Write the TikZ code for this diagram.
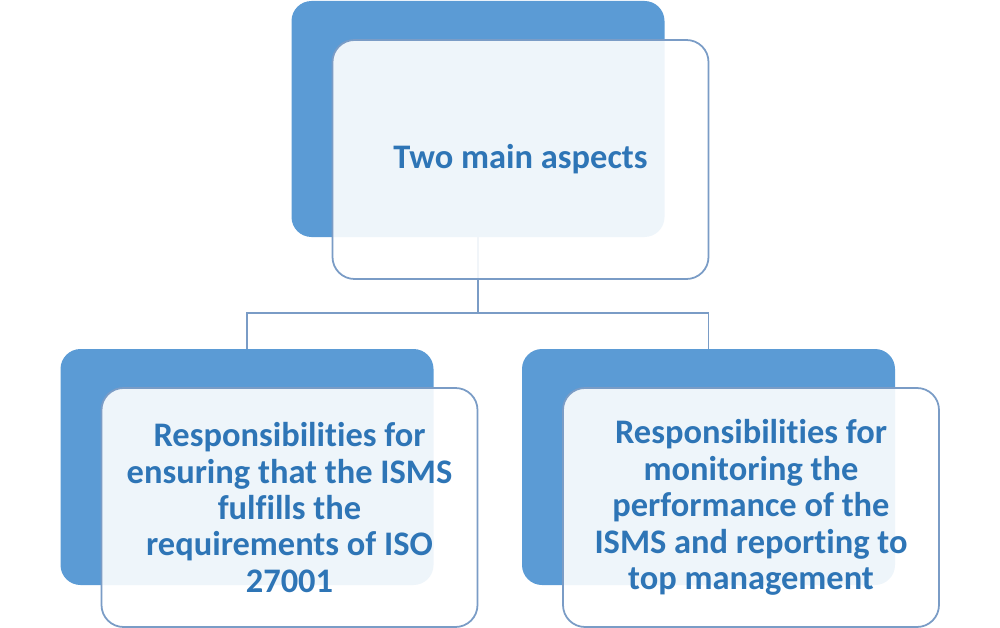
\documentclass[tikz,border=0pt]{standalone}
\usepackage{fontspec}
\setmainfont{Carlito}[Ligatures={NoCommon}]
\usepackage{tikz}
\usetikzlibrary{positioning,calc}
\definecolor{deepblue} {RGB}{ 91,155,213}
\definecolor{edgeblue} {RGB}{122,156,198}
\definecolor{inkblue}  {RGB}{ 46,117,182}

\begin{document}
\begin{tikzpicture}[
  back/.style={rectangle, rounded corners=0.4cm, fill=deepblue, draw=none,
               minimum width=7.46cm, minimum height=4.72cm, inner sep=0pt},
  front/.style={rectangle, rounded corners=0.44cm, draw=edgeblue, line width=1pt,
                fill=white, fill opacity=0.9, text opacity=1, draw opacity=1,
                minimum width=7.52cm, minimum height=4.78cm, inner sep=0pt,
                align=center, text=inkblue, font=\bfseries},
  link/.style={edgeblue, line width=1pt}
]
  \useasboundingbox (0,0) rectangle (20,-12.56);

  % shaded backs
  \node[back] (top_b)   at (9.56,-2.38)  {};
  \node[back] (left_b)  at (4.94,-9.34)  {};
  \node[back] (right_b) at (14.17,-9.34) {};

  % connectors
  \coordinate (fork) at ($(top_b.south)+(0,-1.52)$);
  \draw[link] (top_b.south) -- (fork);
  \draw[link] (fork) -| (left_b.north);
  \draw[link] (fork) -| (right_b.north);

  % front cards
  \node[front, font=\bfseries\fontsize{19.6}{23}\selectfont]
        (top_f) at ($(top_b.center)+(0.85,-0.81)$) {Two main aspects};
  \node[front, font=\bfseries\fontsize{19.6}{20.7}\selectfont]
        (left_f) at ($(left_b.center)+(0.85,-0.81)$)
        {Responsibilities for\\ensuring that the ISMS\\fulfills the\\requirements of ISO\\27001};
  \node[front, font=\bfseries\fontsize{19.6}{20.7}\selectfont]
        (right_f) at ($(right_b.center)+(0.85,-0.81)$)
        {Responsibilities for\\monitoring the\\performance of the\\ISMS and reporting to\\top management};
\end{tikzpicture}
\end{document}
